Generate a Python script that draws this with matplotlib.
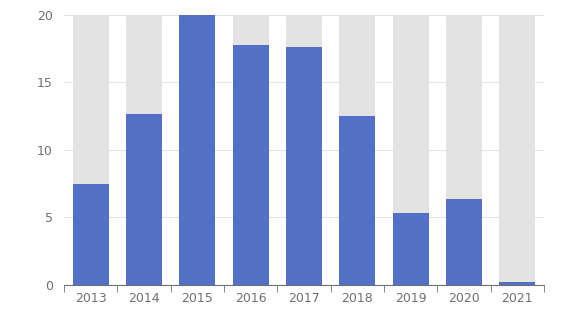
import matplotlib.pyplot as plt
import numpy as np

years = ['2013', '2014', '2015', '2016', '2017', '2018', '2019', '2020', '2021']
values = [7.5, 12.7, 20.0, 17.8, 17.6, 12.5, 5.3, 6.4, 0.2]
background = [20] * len(years)

fig = plt.figure(figsize=(5.69, 3.26), dpi=100)
ax = fig.add_axes([0.1125, 0.126, 0.8435, 0.828])

x = np.arange(len(years))
ax.bar(x, background, width=0.68, color='#e3e3e3', zorder=2)
ax.bar(x, values, width=0.68, color='#5470c6', zorder=3)

ax.set_xlim(-0.5, len(years) - 0.5)
ax.set_ylim(0, 20)
ax.set_yticks([0, 5, 10, 15, 20])
ax.yaxis.grid(True, color='#e4e4e4', linewidth=0.8, zorder=0)

ax.set_xticks(x)
ax.set_xticklabels(years)
ax.set_xticks(np.arange(len(years) + 1) - 0.5, minor=True)
ax.tick_params(axis='x', which='major', length=0, pad=5,
               labelsize=9, labelcolor='#6e7079')
ax.tick_params(axis='x', which='minor', length=5, color='#6e7079')
ax.tick_params(axis='y', length=0, pad=8, labelsize=9, labelcolor='#6e7079')

for side in ['top', 'right', 'left']:
    ax.spines[side].set_visible(False)
ax.spines['bottom'].set_color('#6e7079')
ax.spines['bottom'].set_zorder(4)

fig.savefig('out.png', dpi=100)
